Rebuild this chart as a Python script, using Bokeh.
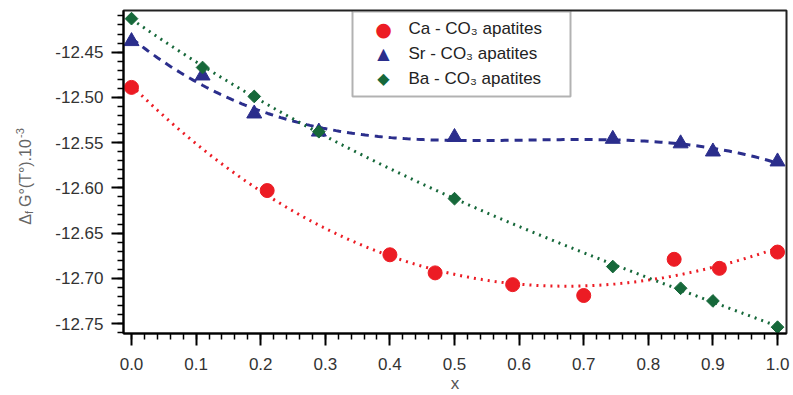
import numpy as np
from bokeh.plotting import figure
from bokeh.layouts import row
from bokeh.models import (Range1d, SingleIntervalTicker, PrintfTickFormatter,
                          Label, BoxAnnotation)
from bokeh.embed import file_html
from bokeh.resources import INLINE

# Composition x and formation free energy (x 10^-3) for the three apatite series
ca_x = [0.0, 0.21, 0.40, 0.47, 0.59, 0.70, 0.84, 0.91, 1.0]
ca_y = [-12.489, -12.603, -12.674, -12.694, -12.707, -12.719, -12.679, -12.689, -12.671]

sr_x = [0.0, 0.11, 0.19, 0.29, 0.50, 0.745, 0.85, 0.90, 1.0]
sr_y = [-12.438, -12.476, -12.518, -12.538, -12.544, -12.546, -12.551, -12.560, -12.571]

ba_x = [0.0, 0.11, 0.19, 0.29, 0.50, 0.745, 0.85, 0.90, 1.0]
ba_y = [-12.413, -12.467, -12.499, -12.538, -12.612, -12.687, -12.711, -12.725, -12.754]

series_names = ["Ca - CO\u2083 apatites", "Sr - CO\u2083 apatites", "Ba - CO\u2083 apatites"]
series_symbols = ["\u25cf", "\u25b2", "\u25c6"]

RED = "#ec1c24"
BLUE = "#2b2e8c"
GREEN = "#16683a"
FONT = "Liberation Sans"

W, H = 793, 395
LEFT_STRIP = 40          # narrow canvas that carries the vertical y-axis title
BORDER_TOP, BORDER_BOTTOM = 10, 58

p = figure(width=W - LEFT_STRIP, height=H, output_backend="svg", toolbar_location=None,
           x_range=Range1d(-0.0124, 1.0139), y_range=Range1d(-12.761, -12.404),
           min_border_left=123 - LEFT_STRIP, min_border_right=7,
           min_border_top=BORDER_TOP, min_border_bottom=BORDER_BOTTOM)
p.background_fill_color = "white"
p.border_fill_color = "white"
p.grid.visible = False
p.outline_line_color = "#222222"
p.outline_line_width = 2

# trend curves: cubic least-squares fits of each series
xs_fit = np.linspace(0.0, 1.0, 200)
for xs, ys, col, dash in [(ca_x, ca_y, RED, "2 5"), (sr_x, sr_y, BLUE, "8 6"), (ba_x, ba_y, GREEN, "2 5")]:
    coef = np.polyfit(xs, ys, 3)
    p.line(xs_fit, np.polyval(coef, xs_fit), line_color=col, line_width=3, line_dash=dash)

p.scatter(ca_x, ca_y, marker="circle", size=14, fill_color=RED, line_color=RED)
p.scatter(sr_x, sr_y, marker="triangle", size=15, fill_color=BLUE, line_color=BLUE)
p.scatter(ba_x, ba_y, marker="square", angle=np.pi / 4, size=9, fill_color=GREEN, line_color=GREEN)

# axes
for ax in (p.xaxis[0], p.yaxis[0]):
    ax.axis_line_color = "black"
    ax.axis_line_width = 2
    ax.major_tick_line_color = "black"
    ax.major_tick_line_width = 2
    ax.minor_tick_line_color = "black"
    ax.minor_tick_line_width = 1.5
    ax.major_tick_in = 0
    ax.major_tick_out = 12
    ax.minor_tick_in = 0
    ax.minor_tick_out = 6
    ax.major_label_text_font = FONT
    ax.major_label_text_font_size = "17px"
    ax.major_label_text_color = "#333333"

p.xaxis.ticker = SingleIntervalTicker(interval=0.1, num_minor_ticks=5)
p.xaxis.formatter = PrintfTickFormatter(format="%.1f")
p.xaxis.major_label_standoff = 12
p.xaxis.axis_label = "x"
p.xaxis.axis_label_text_font = FONT
p.xaxis.axis_label_text_font_size = "17px"
p.xaxis.axis_label_text_font_style = "normal"
p.xaxis.axis_label_text_color = "#555555"
p.xaxis.axis_label_standoff = 1

p.yaxis.ticker = SingleIntervalTicker(interval=0.05, num_minor_ticks=5)
p.yaxis.formatter = PrintfTickFormatter(format="%.2f")
p.yaxis.major_label_standoff = 8

# legend box with symbol and text for each series
# (screen units: x from the frame's left edge, y up from the frame's bottom)
p.add_layout(BoxAnnotation(left=229, right=447, bottom=237, top=322,
                           left_units="screen", right_units="screen",
                           bottom_units="screen", top_units="screen",
                           fill_color="white", fill_alpha=1.0,
                           line_color="black", line_width=2))
symbol_sizes = ["19px", "16px", "16px"]
for i, (name, sym, col) in enumerate(zip(series_names, series_symbols, [RED, BLUE, GREEN])):
    row_y = 305 - 25 * i
    p.add_layout(Label(x=260, y=row_y, x_units="screen", y_units="screen", text=sym,
                       text_font="DejaVu Sans", text_font_size=symbol_sizes[i], text_color=col,
                       text_align="center", text_baseline="middle"))
    p.add_layout(Label(x=285, y=row_y, x_units="screen", y_units="screen", text=name,
                       text_font=FONT, text_font_size="17px", text_color="#222222",
                       text_align="left", text_baseline="middle"))

# y-axis title: delta, subscript f, main text and superscript exponent.
# The strip's frame lines up with the main frame; its data space is pixels
# measured up from the bottom of the canvas.
ylab_fig = figure(width=LEFT_STRIP, height=H, output_backend="svg", toolbar_location=None,
                  x_range=Range1d(0, LEFT_STRIP), y_range=Range1d(BORDER_BOTTOM, H - BORDER_TOP),
                  x_axis_location=None, y_axis_location=None, title=None,
                  min_border_left=0, min_border_right=0,
                  min_border_top=BORDER_TOP, min_border_bottom=BORDER_BOTTOM,
                  outline_line_color=None)
ylab_fig.grid.visible = False
ylab_fig.background_fill_color = "white"
ylab_fig.border_fill_color = "white"
ylab = [("\u0394", 25, 168, "16px"), ("f", 28, 179, "11px"),
        ("G\u00b0(T\u00b0).10", 25, 186, "16px"), ("-3", 19, 256, "11px")]
for txt, lx, ly, fs in ylab:
    ylab_fig.add_layout(Label(x=lx, y=ly, text=txt, angle=np.pi / 2, text_font=FONT,
                              text_font_size=fs, text_color="#666666", text_align="left",
                              text_baseline="alphabetic"))

layout = row(ylab_fig, p, spacing=0)
open("out.html", "w").write(file_html(layout, INLINE))
